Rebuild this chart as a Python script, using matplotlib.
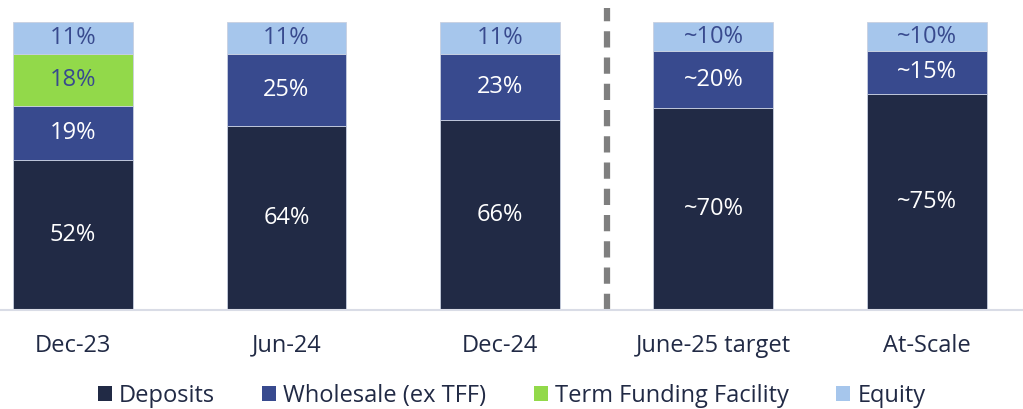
import matplotlib
matplotlib.use("Agg")
import matplotlib.pyplot as plt
from matplotlib.patches import Patch

categories = ["Dec-23", "Jun-24", "Dec-24", "June-25 target", "At-Scale"]
deposits = [52, 64, 66, 70, 75]
wholesale = [19, 25, 23, 20, 15]
tff = [18, 0, 0, 0, 0]
equity = [11, 11, 11, 10, 10]
deposit_labels = ["52%", "64%", "66%", "~70%", "~75%"]
wholesale_labels = ["19%", "25%", "23%", "~20%", "~15%"]
tff_labels = ["18%", "", "", "", ""]
equity_labels = ["11%", "11%", "11%", "~10%", "~10%"]
series_names = ["Deposits", "Wholesale (ex TFF)", "Term Funding Facility", "Equity"]

colors = ["#212a45", "#384a8e", "#92d94a", "#a6c6ec"]
label_colors = ["white", "white", "#384a8e", "#384a8e"]
font = ["Open Sans", "DejaVu Sans"]
plt.rcParams["font.family"] = font
FS = 17

fig = plt.figure(figsize=(10.23, 4.09), dpi=100)
ax = fig.add_axes([0, 1 - 310 / 409, 1, (310 - 8) / 409])

x = list(range(len(categories)))
width = 0.562
bottom = [0] * len(categories)
all_vals = [deposits, wholesale, tff, equity]
all_labels = [deposit_labels, wholesale_labels, tff_labels, equity_labels]
for vals, labs, c, lc, name in zip(all_vals, all_labels, colors, label_colors, series_names):
    ax.bar(x, vals, width, bottom=bottom, color=c, edgecolor="#c8cfe0",
           linewidth=0.6, label=name)
    for xi, v, b, lab in zip(x, vals, bottom, labs):
        if v > 0 and lab:
            ax.text(xi, b + v / 2, lab, ha="center", va="center", color=lc,
                    fontsize=FS)
    bottom = [b + v for b, v in zip(bottom, vals)]

ax.axvline(2.5, ymin=0, ymax=1, color="#7f7f7f", linewidth=4.5,
           linestyle=(0, (2.6, 1.6)))

ax.set_xlim(-0.342, 4.45)
ax.set_ylim(0, 104.9)
for s in ["top", "left", "right"]:
    ax.spines[s].set_visible(False)
ax.spines["bottom"].set_color("#d9dce6")
ax.spines["bottom"].set_linewidth(1.5)
ax.set_yticks([])
ax.set_xticks(x)
ax.set_xticklabels(categories, fontsize=FS, color="#212a45")
ax.tick_params(axis="x", length=0, pad=17)

handles = [Patch(facecolor=c, edgecolor="none") for c in colors]
fig.legend(handles, series_names, loc="center", bbox_to_anchor=(0.5, 1 - 396 / 409),
           ncol=4, frameon=False, fontsize=FS, handlelength=0.6, handleheight=0.6,
           handletextpad=0.3, columnspacing=2.0, labelcolor="#212a45")

fig.savefig("out.png", dpi=100)
